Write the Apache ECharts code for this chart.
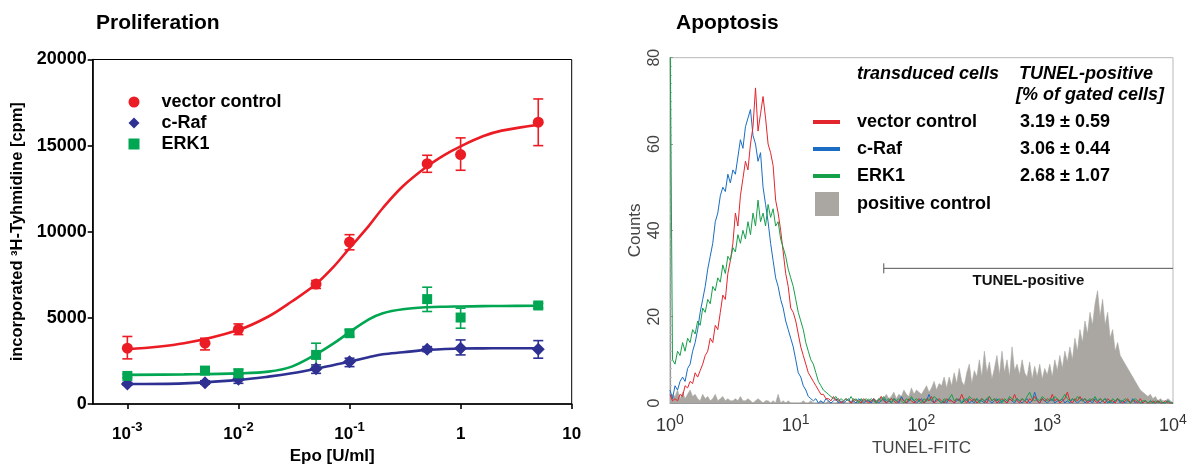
<!DOCTYPE html>
<html>
<head>
<meta charset="utf-8">
<script src="https://cdn.jsdelivr.net/npm/echarts@6/dist/echarts.min.js"></script>
<style>
  html, body { margin: 0; padding: 0; background: #fff; }
  #chart { width: 1193px; height: 464px; }
</style>
</head>
<body>
<div id="chart"></div>
<script>
// ---------- Proliferation: 3H-thymidine incorporation vs Epo ----------
const epoDoses = [0.001, 0.005, 0.01, 0.05, 0.1, 0.5, 1, 5];          // U/ml
const prolifNames = ['vector control', 'c-Raf', 'ERK1'];

const vectorMean = [3240, 3530, 4340, 6960, 9400, 13950, 14480, 16360];
const vectorLow  = [2620, 3140, 4030, 6710, 8950, 13450, 13570, 15000];
const vectorHigh = [3920, 3820, 4650, 7170, 9830, 14440, 15450, 17710];

const rafMean = [1160, 1240, 1430, 2040, 2460, 3180, 3240, 3180];
const rafLow  = [1100, 1150, 1200, 1780, 2170, 3040, 2850, 2660];
const rafHigh = [1250, 1350, 1690, 2270, 2660, 3330, 3720, 3680];

const erkMean = [1630, 1940, 1780, 2850, 4110, 6090, 5020, 5720];
const erkLow  = [1530, 1840, 1550, 2170, 3920, 5370, 4400, 5560];
const erkHigh = [1730, 2040, 2020, 3530, 4300, 6780, 5560, 5850];

// dose-response fit curves, sampled along log10(Epo)
const fitLogEpo  = [-3, -2.49, -2, -1.73, -1.52, -1.31, -1.14, -1, -0.83, -0.7, -0.52, -0.3, -0.14, 0, 0.2, 0.37, 0.71];
const vectorFit  = [3180, 3530, 4300, 5080, 5950, 6920, 7990, 9050, 10310, 11380, 12640, 13800, 14480, 14960, 15540, 15870, 16220];
const rafFit     = [1160, 1200, 1400, 1590, 1780, 2030, 2270, 2460, 2710, 2890, 3000, 3140, 3190, 3220, 3230, 3235, 3240];
const erkFit     = [1690, 1720, 1780, 1880, 2170, 2850, 3530, 4170, 4900, 5270, 5500, 5620, 5650, 5660, 5680, 5690, 5700];

const prolifTicks = [-3, -2, -1, 0, 1];          // decades of Epo

// ---------- Apoptosis: TUNEL-FITC histograms (log channel bins of 0.02 decade, 10^0 .. 10^4) ----------
const binWidth = 0.02;
const histNames = ['vector control', 'c-Raf', 'ERK1', 'positive control'];
const tunelPositive = ['3.19 ± 0.59', '3.06 ± 0.44', '2.68 ± 1.07', ''];

const histVector = [
  2, 0.5, 1, 0.5, 2, 1.5, 4, 3.5, 5, 4.5,
  7, 6, 7.5, 9, 11, 12, 15, 14, 18, 17,
  21, 25, 24, 30, 33, 37, 44, 41, 48, 52,
  56, 54, 60, 64, 73, 63, 67, 71, 66, 60,
  58, 55, 47, 44, 40, 35, 30, 27, 22, 21,
  19, 16, 13, 11, 9, 7, 6, 5, 4, 3,
  2, 2, 1, 1, 0.5, 1.5, 0.5, 1, 0, 0.5,
  1, 0.5, 0, 1, 0.5, 0.5, 0, 1, 0.5, 0,
  0.5, 1, 0, 0.5, 1.5, 0.5, 0, 0.5, 1, 0.5,
  0, 0.5, 1, 0.5, 0, 1, 0.5, 0, 0.5, 1,
  0.5, 0, 1, 0.5, 1.5, 0, 0.5, 1, 0.5, 0,
  1, 0.5, 0.5, 0, 1, 0.5, 2, 0.5, 0, 1,
  0.5, 1, 0, 0.5, 1, 0.5, 0, 1.5, 0.5, 1,
  0, 0.5, 1, 0.5, 0, 1, 0.5, 2, 0.5, 0,
  1, 0.5, 0, 1, 0.5, 1.5, 0.5, 0, 1, 0.5,
  1, 0.5, 2, 0.5, 1, 0, 0.5, 1, 2.5, 0.5,
  0, 1, 0.5, 1.5, 0.5, 1, 0, 0.5, 1, 0.5,
  0, 1, 0.5, 0, 1, 0.5, 0.5, 0, 1, 0.5,
  0, 0.5, 1, 0, 0.5, 0.5, 0, 1, 0, 0.5,
  0, 0, 0.5, 0, 0.5, 0, 0, 0.5, 0, 0,
  0
];
const histRaf = [
  3, 1, 4, 3, 5, 6, 5, 8, 9, 12,
  14, 17, 21, 24, 27, 31, 34, 37, 42, 44,
  48, 50, 49, 53, 51, 54, 53, 57, 61, 59,
  64, 66, 68, 62, 60, 56, 58, 50, 46, 42,
  37, 33, 29, 27, 24, 22, 19, 17, 15, 13,
  10, 7, 6, 4, 3, 1.5, 1, 0.5, 1, 0,
  0.5, 0, 1, 0.5, 0, 0.5, 1, 0, 0.5, 0,
  0.5, 1, 0, 0.5, 0, 1, 0.5, 0, 0.5, 0.5,
  0, 1, 0.5, 0, 0.5, 1, 0, 0.5, 0, 1,
  0.5, 0, 1.5, 0.5, 0, 0.5, 1, 0.5, 0, 0.5,
  1, 0, 0.5, 2, 0.5, 0, 1, 0.5, 0, 0.5,
  0, 1, 0.5, 0, 0.5, 1, 0, 0.5, 1, 0,
  0.5, 0, 1, 0.5, 0.5, 0, 1, 0.5, 0, 0.5,
  1, 0, 0.5, 0.5, 0, 1, 0.5, 0, 1, 0.5,
  0, 0.5, 1, 0, 0.5, 2.5, 0.5, 0, 1, 0.5,
  0, 0.5, 1, 0, 0.5, 0.5, 1, 0, 0.5, 0,
  1, 0.5, 0, 0.5, 1, 0, 0.5, 0.5, 0, 1,
  0.5, 0, 0.5, 1, 0, 0.5, 0, 0.5, 1, 0,
  0.5, 0, 0.5, 0, 1, 0, 0.5, 0, 0, 0.5,
  0, 0.5, 0, 0, 0.5, 0, 0, 0, 0.5, 0,
  0
];
const histErk = [
  90, 10, 9, 12, 11, 14, 12, 15, 14, 17,
  16, 19, 18, 22, 21, 24, 23, 27, 26, 29,
  28, 32, 30, 34, 33, 36, 35, 39, 37, 40,
  38, 42, 39, 44, 41, 47, 42, 44, 41, 46,
  43, 45, 41, 42, 38, 36, 34, 31, 29, 27,
  24, 21, 19, 17, 14, 12, 10, 9, 7, 5,
  4, 3, 2.5, 2, 1.5, 1, 1.5, 0.5, 1, 0.5,
  1, 0.5, 1.5, 0.5, 1, 0, 1, 0.5, 1, 0.5,
  1, 0.5, 0, 1, 0.5, 1.5, 0.5, 1, 0, 1,
  0.5, 1, 0.5, 0, 1, 0.5, 1.5, 0.5, 1, 0.5,
  0, 1, 0.5, 1, 0.5, 1.5, 1, 0.5, 0, 1,
  0.5, 1, 2, 0.5, 1, 0.5, 0, 1, 0.5, 1.5,
  1, 0.5, 1, 0, 1, 0.5, 1, 1.5, 0.5, 1,
  0.5, 1, 0, 1, 0.5, 1.5, 1, 0.5, 1, 0.5,
  1, 0.5, 1.5, 2.5, 1, 0.5, 1, 0.5, 1.5, 1,
  0.5, 1, 0.5, 1.5, 1, 0.5, 1, 2, 1, 0.5,
  1, 0.5, 1.5, 1, 0.5, 1, 0.5, 1, 0.5, 1.5,
  0.5, 1, 0.5, 1, 0.5, 0, 1, 0.5, 1, 0.5,
  0.5, 1, 0.5, 0, 0.5, 1, 0.5, 0, 0.5, 0.5,
  0, 0.5, 0, 0.5, 0, 0.5, 0, 0, 0.5, 0,
  0
];
const histPositive = [
  1, 2, 1.5, 3, 1, 2.5, 1, 2, 3, 1.5,
  2, 1, 0.5, 2, 1, 1.5, 0.5, 1, 2, 0.5,
  1, 1.5, 0.5, 1, 0.5, 0.5, 1, 0.5, 1.5, 0.5,
  0.5, 1, 0.5, 0, 0.5, 1, 0.5, 0, 0.5, 0.5,
  0, 0.5, 0, 2, 0, 0.5, 0, 0.5, 0, 0,
  0, 0, 0, 0.5, 0, 0, 0.5, 0, 0, 0,
  0.5, 0, 0, 0.5, 0, 0, 0, 0.5, 0, 0.5,
  0, 0, 0.5, 0.5, 0, 0.5, 1, 0.5, 0.5, 1,
  0.5, 1, 0.5, 1, 1.5, 1, 2, 1, 1.5, 2.5,
  1, 2, 1.5, 3, 2, 1.5, 3.5, 2, 3, 2.5,
  2, 3, 4, 2.5, 3.5, 5, 3, 4.5, 4, 6,
  3.5, 6, 4, 7, 4.5, 8, 5, 4, 7, 9,
  4.5, 7.5, 6, 10, 6, 12, 7, 9.5, 5.5, 8,
  11, 6.5, 12, 7, 10, 6, 13, 7.5, 9, 6.5,
  10, 7, 6, 9.5, 5.5, 8.5, 6, 9, 5.5, 8,
  6.5, 9, 6, 10, 7.5, 11, 8, 12, 9.5, 13,
  10, 15, 12, 17, 14, 19, 16, 21, 18, 23,
  26, 20, 24, 18, 21, 15, 17, 12, 14, 11,
  10, 9, 8, 7, 6, 5, 4, 3, 2.5, 2,
  1.5, 2, 1, 1.5, 0.5, 1, 0.5, 0.5, 1, 0.5,
  0
];
const gateRange = [[1.7, 4, 31.2]];   // TUNEL-positive gate: from, to (log channel), drawn at count level

// ---------- styling ----------
const FONT = '"Liberation Sans", Arial, sans-serif';
const RED = '#ec1c24', NAVY = '#2e3192', GREEN = '#00a651';
const H_RED = '#e3262e', H_BLUE = '#1a6dc2', H_GREEN = '#17a04a', H_GRAY = '#aaa7a3';
const H_COLORS = [H_RED, H_BLUE, H_GREEN, H_GRAY];

const logEpo = epoDoses.map(d => Math.log10(d));
const pairs = (xs, ys) => xs.map((x, i) => [x, ys[i]]);
const triples = (xs, lo, hi) => xs.map((x, i) => [x, lo[i], hi[i]]);
const binned = counts => counts.map((c, i) => [i * binWidth, c]);

function errorBars(color) {
  return function (params, api) {
    const x = api.value(0);
    const lo = api.coord([x, api.value(1)]);
    const hi = api.coord([x, api.value(2)]);
    const cap = 5;
    const st = { stroke: color, lineWidth: 1.6 };
    return {
      type: 'group',
      children: [
        { type: 'line', shape: { x1: lo[0], y1: lo[1], x2: hi[0], y2: hi[1] }, style: st },
        { type: 'line', shape: { x1: lo[0] - cap, y1: lo[1], x2: lo[0] + cap, y2: lo[1] }, style: st },
        { type: 'line', shape: { x1: hi[0] - cap, y1: hi[1], x2: hi[0] + cap, y2: hi[1] }, style: st }
      ]
    };
  };
}

function powerLabel(v, one) {
  if (one && v === 0) return '{b|1}';
  if (one && v === 1) return '{b|10}';
  return '{b|10}{s|' + v + '}';
}

const prolifGroups = [
  { name: prolifNames[0], color: RED, symbol: 'circle', size: 11, mean: vectorMean, lo: vectorLow, hi: vectorHigh, fit: vectorFit },
  { name: prolifNames[1], color: NAVY, symbol: 'diamond', size: 13, mean: rafMean, lo: rafLow, hi: rafHigh, fit: rafFit },
  { name: prolifNames[2], color: GREEN, symbol: 'rect', size: 10, mean: erkMean, lo: erkLow, hi: erkHigh, fit: erkFit }
];

const series = [];
prolifGroups.forEach(g => {
  series.push({
    name: g.name + ' fit', type: 'line', xAxisIndex: 0, yAxisIndex: 0,
    data: pairs(fitLogEpo, g.fit), smooth: 0.35, symbol: 'none',
    lineStyle: { color: g.color, width: 2.6 }, z: 2
  });
  series.push({
    name: g.name + ' SEM', type: 'custom', xAxisIndex: 0, yAxisIndex: 0,
    data: triples(logEpo, g.lo, g.hi), renderItem: errorBars(g.color), z: 3
  });
  series.push({
    name: g.name, type: 'scatter', xAxisIndex: 0, yAxisIndex: 0,
    data: pairs(logEpo, g.mean), symbol: g.symbol, symbolSize: g.size,
    itemStyle: { color: g.color, opacity: 1 }, z: 4
  });
});

const histSeries = [
  { k: 3, data: histPositive, area: true },
  { k: 1, data: histRaf },
  { k: 0, data: histVector },
  { k: 2, data: histErk }
];
const histLabel = k => histNames[k] + ' (TUNEL-FITC)';
histSeries.forEach((h, j) => {
  const c = H_COLORS[h.k];
  series.push({
    name: histLabel(h.k), type: 'line', xAxisIndex: 1, yAxisIndex: 1,
    data: binned(h.data), symbol: 'none', clip: true,
    color: c,
    lineStyle: { color: c, width: h.area ? 0.6 : 1 },
    areaStyle: h.area ? { color: c, opacity: 1 } : undefined,
    z: 2 + j
  });
});

series.push({
  name: 'TUNEL-positive gate', type: 'custom', xAxisIndex: 1, yAxisIndex: 1,
  data: gateRange, z: 10,
  renderItem: function (params, api) {
    const a = api.coord([api.value(0), api.value(2)]);
    const b = api.coord([api.value(1), api.value(2)]);
    const st = { stroke: '#555', lineWidth: 1 };
    return {
      type: 'group',
      children: [
        { type: 'line', shape: { x1: a[0], y1: a[1], x2: b[0], y2: b[1] }, style: st },
        { type: 'line', shape: { x1: a[0], y1: a[1] - 5, x2: a[0], y2: a[1] + 5 }, style: st },
        { type: 'text', x: (a[0] + b[0]) / 2, y: a[1] + 13,
          style: { text: 'TUNEL-positive', font: 'bold 15px ' + FONT, fill: '#111', align: 'center', verticalAlign: 'middle' } }
      ]
    };
  }
});

const legendText = { fontFamily: FONT, fontSize: 18, fontWeight: 'bold', color: '#000' };
const tableRich = {
  n: Object.assign({ width: 163, padding: [0, 0, 0, 12] }, legendText),
  m: Object.assign({ padding: [0, 0, 0, 13] }, legendText),
  v: Object.assign({}, legendText)
};
const tableRow = name => {
  const k = histNames.findIndex((n, i) => histLabel(i) === name);
  return tunelPositive[k] ? '{n|' + histNames[k] + '}{v|' + tunelPositive[k] + '}' : '{m|' + histNames[k] + '}';
};

const chart = echarts.init(document.getElementById('chart'), null, { renderer: 'canvas' });
chart.setOption({
  animation: false,
  backgroundColor: '#fff',
  title: [
    { text: 'Proliferation', left: 96, top: 13, padding: 0, textStyle: { fontFamily: FONT, fontSize: 21, fontWeight: 'bold', color: '#000' } },
    { text: 'Apoptosis', left: 676, top: 13, padding: 0, textStyle: { fontFamily: FONT, fontSize: 21, fontWeight: 'bold', color: '#000' } }
  ],
  grid: [
    { left: 92.7, top: 59.5, width: 479, height: 344.5, show: true, borderColor: '#000', borderWidth: 1, containLabel: false, outerBoundsMode: 'none' },
    { left: 670, top: 57.7, width: 503, height: 345.3, show: true, borderColor: '#b8b8b8', borderWidth: 1, containLabel: false, outerBoundsMode: 'none' }
  ],
  xAxis: [
    {
      gridIndex: 0, type: 'value', min: -3.312, max: 1,
      splitLine: { show: false },
      axisLine: { onZero: false, lineStyle: { color: '#000', width: 1.6 } },
      axisTick: { show: true, customValues: prolifTicks, length: 5, lineStyle: { color: '#000', width: 1.6 } },
      axisLabel: {
        customValues: prolifTicks, margin: 17,
        formatter: v => powerLabel(v, true),
        rich: {
          b: { fontFamily: FONT, fontSize: 17, fontWeight: 'bold', color: '#000', lineHeight: 22, verticalAlign: 'bottom' },
          s: { fontFamily: FONT, fontSize: 13, fontWeight: 'bold', color: '#000', lineHeight: 13, verticalAlign: 'top' }
        }
      },
      name: 'Epo [U/ml]', nameLocation: 'middle', nameGap: 43,
      nameTextStyle: { fontFamily: FONT, fontSize: 17, fontWeight: 'bold', color: '#000' }
    },
    {
      gridIndex: 1, type: 'value', min: 0, max: 4, interval: 1,
      splitLine: { show: false },
      axisLine: { onZero: false, lineStyle: { color: '#999', width: 1.2 } },
      axisTick: { show: false },
      axisLabel: {
        margin: 10,
        formatter: v => powerLabel(v, false),
        rich: {
          b: { fontFamily: FONT, fontSize: 18, color: '#333', lineHeight: 22, verticalAlign: 'bottom' },
          s: { fontFamily: FONT, fontSize: 14, color: '#333', lineHeight: 14, verticalAlign: 'top' }
        }
      },
      name: 'TUNEL-FITC', nameLocation: 'middle', nameGap: 20,
      nameTextStyle: { fontFamily: FONT, fontSize: 17, color: '#444' }
    }
  ],
  yAxis: [
    {
      gridIndex: 0, type: 'value', min: 0, max: 20000, interval: 5000,
      splitLine: { show: false },
      axisLine: { show: true, onZero: false, lineStyle: { color: '#000', width: 1.6 } },
      axisTick: { show: true, length: 5, lineStyle: { color: '#000', width: 1.6 } },
      axisLabel: { margin: 6, fontFamily: FONT, fontSize: 18, fontWeight: 'bold', color: '#000', formatter: v => String(v) },
      name: 'incorporated ³H-Tyhmidine [cpm]', nameLocation: 'middle', nameGap: 67, nameRotate: 90,
      nameTextStyle: { fontFamily: FONT, fontSize: 16.5, fontWeight: 'bold', color: '#000' }
    },
    {
      gridIndex: 1, type: 'value', min: 0, max: 80, interval: 20,
      splitLine: { show: false },
      axisLine: { show: true, onZero: false, lineStyle: { color: '#999', width: 1.2 } },
      axisTick: { show: true, inside: true, length: 3, lineStyle: { color: '#999' } },
      minorTick: { show: true, splitNumber: 10, length: 2, lineStyle: { color: '#bbb' } },
      axisLabel: { rotate: 90, margin: 7, fontFamily: FONT, fontSize: 16, color: '#444' },
      name: 'Counts', nameLocation: 'middle', nameGap: 26, nameRotate: 90,
      nameTextStyle: { fontFamily: FONT, fontSize: 17, color: '#444' }
    }
  ],
  legend: [
    {
      data: prolifNames, orient: 'vertical', left: 128.5, top: 93, padding: 0,
      itemWidth: 11, itemHeight: 11, itemGap: 3, selectedMode: false,
      formatter: name => '{t|' + name + '}',
      textStyle: {
        fontFamily: FONT, fontSize: 18, fontWeight: 'bold', color: '#000', lineHeight: 18,
        rich: { t: { fontFamily: FONT, fontSize: 18, fontWeight: 'bold', color: '#000', lineHeight: 18, padding: [0, 0, 0, 17] } }
      }
    },
    {
      data: [0, 1, 2].map(k => ({ name: histLabel(k), icon: 'rect', itemStyle: { color: H_COLORS[k] } })),
      orient: 'vertical', left: 813, top: 108.5, padding: 0,
      itemWidth: 27, itemHeight: 4, itemGap: 0, selectedMode: false,
      formatter: tableRow,
      textStyle: Object.assign({ lineHeight: 27, rich: tableRich }, legendText)
    },
    {
      data: [{ name: histLabel(3), icon: 'rect', itemStyle: { color: H_GRAY } }],
      orient: 'vertical', left: 815, top: 192, padding: 0,
      itemWidth: 24, itemHeight: 24, itemGap: 0, selectedMode: false,
      formatter: tableRow,
      textStyle: Object.assign({ rich: tableRich }, legendText)
    }
  ],
  graphic: [
    { type: 'text', x: 857, y: 74, style: { text: 'transduced cells', font: 'italic bold 18px ' + FONT, fill: '#000', verticalAlign: 'middle' } },
    { type: 'text', x: 1019, y: 74, style: { text: 'TUNEL-positive', font: 'italic bold 18px ' + FONT, fill: '#000', verticalAlign: 'middle' } },
    { type: 'text', x: 1016, y: 95, style: { text: '[% of gated cells]', font: 'italic bold 18px ' + FONT, fill: '#000', verticalAlign: 'middle' } }
  ],
  series: series
});
</script>
</body>
</html>
